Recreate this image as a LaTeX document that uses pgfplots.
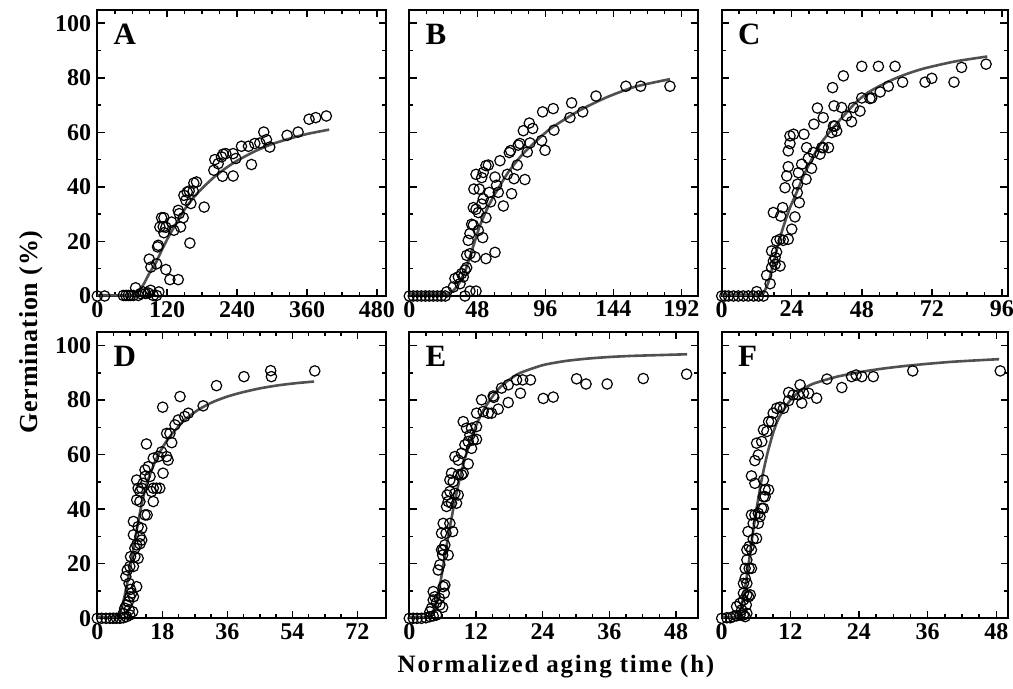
\documentclass[border=0pt]{standalone}
\usepackage{fontspec}
\setmainfont{Liberation Serif}
\usepackage{pgfplots}
\pgfplotsset{compat=1.18}

\definecolor{fitgray}{RGB}{80,80,80}

\pgfplotsset{
  panel/.style={
    scale only axis,
    width=144.5pt, height=143.2pt,
    ymin=0, ymax=105,
    ytick={0,20,...,100}, minor y tick num=1,
    minor x tick num=3,
    tick align=inside,
    major tick length=3.6pt, minor tick length=2pt,
    every tick/.style={line width=0.75pt, black},
    axis line style={line width=1pt},
    clip=false,
    /pgf/number format/assume math mode=true,
    tick label style={font=\bfseries\fontsize{12}{13}\selectfont},
    xticklabel style={yshift=1pt},
    yticklabel style={xshift=0.5pt},
  },
  noylabels/.style={yticklabels={}},
  pts/.style={only marks, mark=o, mark size=2.6pt, black, mark options={line width=0.6pt}},
  fit/.style={no marks, smooth, tension=0.4, fitgray, line width=1.3pt},
}
\newcommand{\panellabel}[1]{\node[anchor=north west, inner sep=0pt, font=\bfseries\fontsize{15.5}{16}\selectfont] at ([xshift=8pt,yshift=-7pt]rel axis cs:0,1) {#1};}

\begin{document}
\begin{tikzpicture}
\useasboundingbox (0pt,0pt) rectangle (506.5pt,-344.5pt);

% ---- A ----
\begin{axis}[panel, at={(48.65pt,-148pt)}, anchor=south west,
  xmin=0, xmax=496, xtick={0,120,...,480}]
\addplot[pts] coordinates {
(0,0)(12.6,0)(44.6,0.2)(49.1,0.2)(53.1,0.2)(57.1,0.2)(61.7,0.2)(65.7,3)(70.3,0.2)(74.3,0.9)
(78.9,1.5)(82.9,0.9)(87.4,1.1)(91.4,2.1)(96,0.2)(101.7,0.2)(105.7,1.5)
(89.1,13.5)(92,10.6)(101.7,11.8)(103.4,18)(104.6,18.6)(107.4,25.3)(110.3,28.7)(114.3,28.7)
(113.1,25.4)(117.7,25.2)(114.3,23.2)(117.7,9.7)(124.6,6)(138.9,6)(127.4,27.1)(131.4,24.1)
(138.9,31.4)(140.6,30.2)(142.9,25.3)(147.4,28.7)(148.6,36.9)(152,35.1)(154.3,38.1)(157.7,38.5)
(160.6,33.9)(158.9,19.4)(164.6,38.5)(165.7,41.4)(170.3,41.8)(183.4,32.6)(200,46.1)(201.7,50)
(207.4,48.5)(213.1,51)(216,52)(220.6,52.2)(233.1,52.2)(214.9,43.9)(233.1,44)(237.7,50.4)
(247.4,54.9)(259.4,54.9)(270.3,55.9)(278.9,56.1)(264.6,48.2)(285.7,60.1)(290.3,57.3)(296,54.6)
(325.7,58.9)(344.6,60.1)(363.4,64.8)(374.9,65.4)(393.1,66)
};
\addplot[fit] coordinates {
(0,0.3)(62,0.3)(70,1.5)(80,4.5)(90,8.6)(100,12)(110,16.5)(120,20.8)(135,26.5)(150,31.8)
(165,36)(180,39.5)(200,43.5)(220,46.8)(240,49.6)(270,53)(300,55.7)(330,57.7)(360,59.4)(398,61)
};
\panellabel{A}
\end{axis}

% ---- B ----
\begin{axis}[panel, noylabels, at={(204.65pt,-148pt)}, anchor=south west,
  xmin=0, xmax=204, xtick={0,48,...,192}]
\addplot[pts] coordinates {
(0,0)(2.8,0)(5.6,0)(8.5,0)(11.3,0)(14.1,0)(16.9,0)(19.8,0)(22.6,0)(25.4,0)
(26.4,1.5)(31.1,3.3)(32.2,6.4)(34.6,7)(35.8,4.5)(36.9,8.2)(38.1,7)(39.3,9.5)(40.5,10.4)(39.3,0)
(42.8,1.8)(47.1,1.8)(40.5,14.9)(42.8,15.5)(46.4,14.3)(41.6,20.4)(42.8,22.9)(44,26.3)(45.2,26)
(48.7,24)(45.2,32.4)(47.1,31.8)(48.7,30.6)(45.6,39.2)(49.4,39.2)(47.1,44.6)(51.1,43.4)(52.2,45.3)
(54.1,47.8)(55.8,48)(51.1,33.7)(52.2,35.6)(51.8,21.4)(54.1,13.7)(60.5,16)(54.1,28.7)(56.5,38)
(57.4,34.5)(60.5,43.6)(61.6,40.6)(62.8,38)(64,49.6)(66.4,33)(69.2,44.6)(70.6,52.6)(71.5,53.3)
(73.9,43)(72.2,37.5)(76.2,48)(76.9,55.3)(78.1,55.9)(81.6,42.7)(80.5,60.6)(84.7,63.4)(87.1,61.4)
(85.2,56.1)(83.3,52.8)(93.4,57)(95.8,53.4)(94.1,67.5)(101.6,68.7)(102.1,60.8)(113.4,65.4)
(114.6,70.8)(122.4,67.5)(131.8,73.3)(152.9,76.9)(163.3,76.9)(184,76.9)
};
\addplot[fit] coordinates {
(0,0.7)(25,0.7)(30,1.5)(35,4.5)(40,10)(45,18)(50,26)(55,32)(60,37)(70,45.5)(80,52)(90,57)
(100,61.5)(120,68)(140,73)(160,76.8)(184,79.5)
};
\panellabel{B}
\end{axis}

% ---- C ----
\begin{axis}[panel, noylabels, at={(360.85pt,-148pt)}, anchor=south west, width=143pt,
  xmin=0, xmax=98, xtick={0,24,...,96}]
\addplot[pts] coordinates {
(0,0)(1.1,0)(2.3,0)(4,0)(5.7,0)(7.4,0)(9.1,0)(10.9,0)(12.6,0)(14.3,0)
(12,1.6)(15.4,7.6)(16.6,4.5)(17.1,10.4)(17.7,12.8)(18.3,14.1)(18.8,16.1)(17.1,16.5)(18.3,11.6)
(20,11)(18.8,20.2)(20,20.8)(21.1,20.4)(22.8,20.8)(17.7,30.6)(20.2,29.3)(20.9,32.4)(21.7,39.7)
(22.3,44)(22.8,47.4)(22.8,53.2)(23.4,55.9)(23.4,58.7)(24.6,59.3)(24,24.5)(25.1,29)(26.6,34.2)
(25.9,37.9)(26,41)(26.3,45.2)(27.4,48.3)(28.2,59.3)(29.1,54.4)(28.9,42.8)(29.7,50.5)(30.8,46.8)
(31.4,52.6)(31.6,63)(32.8,68.9)(34.3,54.4)(34.8,54.4)(36.6,54.4)(33.7,52)(34.8,65.4)(37.7,59.9)
(38.3,62.3)(38.8,62.3)(39.4,60.5)(38,76.4)(38.5,69.7)(41.7,80.7)(41.1,69.1)(42.8,66)(44.5,63.9)
(45.1,69.1)(47.4,67.8)(48,84.2)(53.7,84.2)(59.4,84.2)(48,72.6)(50.8,72.4)(51.4,72.6)(54.3,74.8)
(57.1,76.9)(62,78.4)(69.7,78.4)(72,79.8)(79.6,78.4)(82.2,83.8)(90.6,85)
};
\addplot[fit] coordinates {
(0,0.5)(13,0.5)(14.5,1.5)(16,5)(17.5,11)(19,17.5)(21,25)(23.4,32.4)(25.5,37.5)(28,44)(31,50.5)
(34,56)(38,61.5)(42,66.3)(46,71)(50,74.5)(55,77.5)(60,80)(65,82)(70,83.6)(80,86)(91,87.8)
};
\panellabel{C}
\end{axis}

% ---- D ----
\begin{axis}[panel, at={(48.65pt,-309.15pt)}, anchor=south west,
  xmin=0, xmax=80, xtick={0,18,...,72}]
\addplot[pts] coordinates {
(0,0)(1.2,0)(2.4,0)(3.5,0)(4.4,0)(5.3,0)(6.3,0)(7.2,0.2)(8.1,0.6)(9,1.2)
(7.2,1.8)(7.6,3.7)(8.1,4.9)(8.6,6.1)(9,7.9)(9.5,9.2)(10,7.9)(8.8,3.1)(9.8,2.4)
(8.8,12.8)(9.2,10.6)(10.9,11.6)(7.9,15.3)(8.3,17.7)(9,19)(10,19)(9.2,22.6)(10.4,22.6)(11.3,22)
(10.4,25.7)(10.9,26.9)(11.8,27.3)(12.3,28.7)(10,30.6)(11.8,30)(12.3,33)(11.3,33.6)(10,35.5)
(13.2,37.9)(13.8,37.9)(10.9,43.4)(11.8,42.8)(15.5,42.8)(11.3,47.7)(12.3,47.7)(12.7,49.5)(10.9,50.7)
(13.2,52)(14.6,52)(15.5,47.7)(16.4,47.7)(17.3,47.7)(11.8,46.5)(15,46.5)(13.2,54.4)(14.1,55.6)
(15.5,58.7)(16.9,59.3)(17.8,61)(18.2,53.2)(19.2,59.3)(19.6,58)(13.6,63.9)(19.2,67.8)(20.1,67.8)
(20.6,64.4)(21.5,70.9)(22.4,72.7)(24.2,74)(25.2,75.2)(29.3,77.9)(18.1,77.4)(22.9,81.3)(33,85.3)
(40.6,88.6)(48,90.8)(48.2,88.6)(60.2,90.7)
};
\addplot[fit] coordinates {
(0,0.5)(5,0.5)(6,1.5)(7,5)(8,11)(9,18)(10,25.5)(11,33)(12,40)(13,46)(14,50.5)(16,57.5)(18,62.5)
(20,66.5)(24,72.5)(28,76.5)(32,79.3)(36,81.3)(40,82.8)(45,84.3)(50,85.4)(55,86.2)(60,86.8)
};
\panellabel{D}
\end{axis}

% ---- E ----
\begin{axis}[panel, noylabels, at={(204.65pt,-309.15pt)}, anchor=south west,
  xmin=0, xmax=52, xtick={0,12,...,48}]
\addplot[pts] coordinates {
(0,0)(0.7,0)(1.4,0)(2.2,0)(3,0.2)(3.7,0.6)(4.3,0.9)(4.9,1.2)
(3.7,2.4)(4,3.7)(4.3,6.7)(4.3,9.8)(4.6,7.9)(4.9,5.7)(5.4,7.3)(5.5,4.9)(6,4)(6.1,11.6)(6.3,9.2)
(6.4,12.2)(5.2,17.7)(5.5,19.6)(6,23.2)(5.8,25.1)(6.1,25.1)(7,23.2)(6.4,26.9)(6.6,31.2)(6.1,34.8)
(7.3,34.8)(5.8,31.2)(7.8,31.8)(6.7,41)(7,42.8)(7.6,42.2)(8.2,45.8)(6.8,45.2)(7.3,46.5)(8.8,45.2)
(8.5,42.2)(7.3,50.7)(7.6,53.2)(7.9,50.1)(8.8,52.6)(9.4,52.6)(9.7,53.2)(8.2,59.3)(8.8,58)(9.4,60.5)
(10.6,56.6)(10,63.6)(10.6,64.8)(11.2,62.3)(11.5,65.4)(12.1,65.6)(10.9,67.2)(9.7,72.1)(10.3,69.7)
(11.2,69.7)(12.1,70.3)(12.1,75.2)(13.3,75.8)(14.2,75.2)(14.8,75.2)(16,76.7)(13,80.1)(15.1,81.5)
(15.2,81)(16.6,84.4)(17.8,85.6)(19.3,87.4)(20.4,87.4)(21.8,87.4)(17.8,79.1)(20,82.5)(24.1,80.6)
(25.9,81.1)(30.1,87.8)(31.8,85.9)(35.6,85.9)(42.1,87.9)(49.9,89.5)
};
\addplot[fit] coordinates {
(0,0.5)(3.5,0.5)(4,1.5)(4.5,3.5)(5,7)(5.5,12)(6,18)(6.5,24)(7,30)(8,41)(9,50.5)(10,58.5)(11,65)
(12,70.5)(13,75)(14,78.5)(16,84)(18,87.5)(20,90)(24,92.8)(28,94.3)(32,95.2)(36,95.8)(40,96.2)
(45,96.5)(50,96.8)
};
\panellabel{E}
\end{axis}

% ---- F ----
\begin{axis}[panel, noylabels, at={(360.85pt,-309.15pt)}, anchor=south west, width=143pt,
  xmin=0, xmax=50, xtick={0,12,...,48}]
\addplot[pts] coordinates {
(0,0)(0.9,0.2)(1.5,0.2)(2,0.6)(2.6,0.9)(3.2,1.2)(3.8,1.2)
(2.6,4.3)(3.2,5.5)(3.5,3.1)(3.8,6.7)(4.1,0.6)(4.4,1.8)(4.3,4.9)(3.8,9.2)(4.4,8.6)(4.7,7.9)(5,8.6)
(3.8,12.8)(4.1,14.7)(4.4,12.8)(4.1,18.3)(4.4,21.4)(4.8,18.3)(5.2,18.3)(4.4,25.1)(4.8,26.3)(5.2,25.1)
(4.6,31.8)(5.5,29)(6.1,29.3)(5.5,34.8)(6.4,34.8)(6.7,37.3)(5.8,37.9)(5.2,37.9)(7,40.3)(7.3,40.3)
(6.4,38.5)(7.3,44.6)(7.6,44.6)(8.2,47.1)(7.6,47.1)(5.2,52.2)(5.8,49.5)(7.3,50.7)(5.8,57.8)(6.4,59.9)
(6.1,64.2)(7,64.8)(7.3,69.1)(7.9,68.5)(8.2,72.1)(8.7,72.1)(9,75.2)(9.6,77)(10.2,77.4)(10.8,77)
(11.7,79.8)(11.7,82.8)(12.5,81.9)(13.4,81.9)(14.3,82.5)(15.2,82.5)(16.6,80.7)(13.7,85.6)(14,78.9)
(18.4,87.7)(21,84.6)(22.7,88.6)(23.5,89.2)(24.5,88.6)(26.5,88.6)(33.4,90.7)(48.7,90.7)
};
\addplot[fit] coordinates {
(0,0.5)(2.5,0.5)(3,2)(3.5,5)(4,10)(4.5,17)(5,24.5)(5.5,32)(6,39)(7,51)(8,60.5)(9,68)(10,73.5)
(12,80)(14,83.8)(16,86)(20,88.5)(24,90.2)(28,91.5)(32,92.5)(36,93.3)(40,94)(44,94.5)(48.5,95)
};
\panellabel{F}
\end{axis}

% axis titles
\node[font=\bfseries\fontsize{12.5}{14}\selectfont\addfontfeatures{LetterSpace=7}] at (278pt,-333.5pt) {Normalized aging time (h)};
\node[rotate=90, font=\bfseries\fontsize{13}{14}\selectfont\addfontfeatures{LetterSpace=3}] at (15.5pt,-166pt) {Germination (\%)};
\end{tikzpicture}
\end{document}
